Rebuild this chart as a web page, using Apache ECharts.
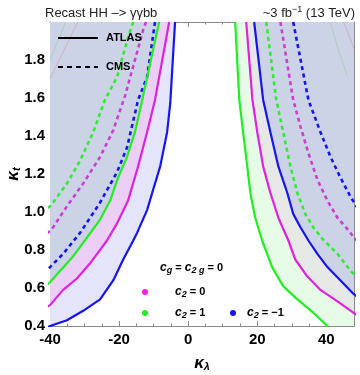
<!DOCTYPE html>
<html>
<head>
<meta charset="utf-8">
<script src="https://cdn.jsdelivr.net/npm/echarts@6/dist/echarts.min.js"></script>
<style>
  body { margin: 0; background: #fff; }
  #chart { width: 360px; height: 375px; }
</style>
</head>
<body>
<div id="chart"></div>
<script>
// ECharts 인스턴스
const chart = echarts.init(document.getElementById('chart'));

// 축 범위와 눈금
const xRange = [-40, 48];
const yRange = [0.4, 2.0];

// 곡선 데이터 [kappa_lambda, kappa_t] (ATLAS = 실선, CMS = 점선)
const atlasC2m1Left = [[-3.8, 2.0], [-5.2, 1.57], [-6.1, 1.42], [-8.1, 1.24], [-10.1, 1.12], [-11.9, 1.01], [-14.8, 0.89], [-15.9, 0.85], [-18.8, 0.75], [-21.7, 0.64], [-25.5, 0.54], [-30.4, 0.48], [-35.1, 0.43], [-40, 0.40], [-44, 0.37]];
const atlasC20Left = [[-5.5, 2.0], [-9.6, 1.59], [-11.9, 1.42], [-14.5, 1.24], [-17.4, 1.06], [-20.6, 0.94], [-23.5, 0.85], [-28.4, 0.73], [-32.2, 0.65], [-36.2, 0.59], [-40, 0.51], [-43, 0.48]];
const atlasC21Left = [[-8.4, 2.0], [-13.3, 1.59], [-15.4, 1.42], [-17.7, 1.29], [-20.3, 1.18], [-22.6, 1.06], [-25.5, 0.96], [-29.9, 0.85], [-33.6, 0.76], [-37.1, 0.69], [-40, 0.63], [-43, 0.59]];
const cmsC2m1Left = [[-9.6, 2.0], [-11.9, 1.71], [-14.5, 1.59], [-17.7, 1.34], [-20.6, 1.21], [-25.5, 1.05], [-31.3, 0.89], [-36.2, 0.78], [-40, 0.71], [-43, 0.66]];
const cmsC20Left = [[-12.2, 2.0], [-13.0, 1.96], [-18.3, 1.61], [-21.7, 1.43], [-25.5, 1.29], [-30.4, 1.15], [-35.1, 1.03], [-39.1, 0.92], [-40, 0.90], [-43, 0.86]];
const cmsC21Left = [[-15.9, 2.0], [-17.4, 1.92], [-20.6, 1.71], [-24.1, 1.59], [-27.5, 1.42], [-31.3, 1.27], [-35.1, 1.15], [-39.1, 1.05], [-40, 1.03], [-43, 0.99]];

const atlasC21Right = [[13.6, 2.0], [14.8, 1.59], [15.9, 1.42], [17.1, 1.24], [18.0, 1.10], [19.4, 0.97], [21.4, 0.85], [24.3, 0.71], [27.5, 0.61], [31.6, 0.54], [36.2, 0.47], [40.3, 0.40], [41.5, 0.37]];
const atlasC20Right = [[16.8, 2.0], [18.6, 1.59], [20.0, 1.42], [21.7, 1.24], [23.8, 1.10], [26.1, 0.97], [29.0, 0.85], [31.0, 0.75], [34.5, 0.66], [38.3, 0.59], [43.2, 0.53], [47.8, 0.47], [51.3, 0.43]];
const atlasC2m1Right = [[19.1, 2.0], [21.7, 1.59], [23.8, 1.42], [26.1, 1.24], [28.7, 1.10], [30.4, 0.99], [32.5, 0.92], [34.8, 0.85], [37.4, 0.78], [40.3, 0.71], [44.1, 0.64], [47.8, 0.57], [51.3, 0.52]];
const cmsC21Right = [[22.6, 2.0], [25.5, 1.59], [27.5, 1.42], [29.6, 1.24], [31.6, 1.10], [33.9, 0.99], [36.2, 0.92], [38.8, 0.86], [43.2, 0.78], [47.0, 0.69], [50.4, 0.63]];
const cmsC20Right = [[26.7, 2.0], [30.4, 1.59], [32.5, 1.45], [34.8, 1.31], [37.4, 1.17], [40.3, 1.06], [43.2, 0.97], [46.1, 0.91], [47.8, 0.87], [51.3, 0.80]];
const cmsC2m1Right = [[30.4, 2.0], [34.8, 1.59], [38.3, 1.42], [41.2, 1.29], [44.1, 1.18], [47.0, 1.08], [50.4, 0.98]];

// 모서리의 희미한 곡선
const faintGreenLeft = [[-40, 1.80], [-35.5, 2.0]];
const faintRedLeft = [[-40, 1.70], [-32, 2.0]];
const faintGreenRight = [[41.2, 2.0], [43.5, 1.85], [46, 1.72]];
const faintRedRight = [[45.0, 2.0], [48.5, 1.84]];

// 색상
const BLUE = '#1515F0', MAGENTA = '#DE22DE', GREEN = '#22EE22';
const MAGENTA_D = '#C83FD2', GREEN_D = '#30EC30';
const FONT = 'Liberation Sans';

// 곡선 바깥쪽 영역을 다각형으로 칠함
function region(curve, side, color) {
    return {
        type: 'custom',
        clip: true,
        silent: true,
        z: 1,
        data: [[0, 1]],
        renderItem: function (params, api) {
            const edge = side === 'left' ? -80 : 90;
            const first = curve[0];
            const last = curve[curve.length - 1];
            const pts = curve.concat([[edge, last[1]], [edge, 2.5], [first[0], 2.5]]);
            return {
                type: 'polygon',
                shape: { points: pts.map(p => api.coord(p)) },
                style: { fill: color }
            };
        }
    };
}

function curve(data, color, dashed, width, opacity) {
    return {
        type: 'line',
        data: data,
        showSymbol: false,
        clip: true,
        silent: true,
        z: 3,
        lineStyle: {
            color: color,
            width: width || (dashed ? 2.6 : 2.2),
            type: dashed ? [4, 3.5] : 'solid',
            opacity: opacity == null ? 1 : opacity
        }
    };
}

// 네 변 모두 안쪽 눈금이 있는 프레임
const frameAxis = {
    axisLine: { show: true, onZero: false, lineStyle: { color: '#8a8a8a', width: 1 } },
    axisTick: { show: true, inside: true, length: 5, lineStyle: { color: '#8a8a8a' } },
    minorTick: { show: true, splitNumber: 4, length: 2.5, lineStyle: { color: '#8a8a8a' } },
    splitLine: { show: false }
};

// 아래첨자용 rich 스타일
const legendRich = {
    i: { fontSize: 12, fontStyle: 'italic', fontWeight: 'bold', fontFamily: FONT, lineHeight: 15 },
    s: { fontSize: 9, fontStyle: 'italic', fontWeight: 'bold', fontFamily: FONT, lineHeight: 15, verticalAlign: 'bottom' },
    n: { fontSize: 11, fontWeight: 'bold', fontFamily: FONT, lineHeight: 15 }
};
const axisNameRich = {
    k: { fontSize: 17, fontStyle: 'italic', fontWeight: 'bold', fontFamily: FONT, lineHeight: 19 },
    s: { fontSize: 11, fontStyle: 'italic', fontWeight: 'bold', fontFamily: FONT, lineHeight: 19, verticalAlign: 'bottom' }
};

const option = {
    animation: false,
    backgroundColor: '#fff',
    grid: { left: 50, right: 6, top: 22, bottom: 49 },
    xAxis: [
        Object.assign({
            type: 'value', min: xRange[0], max: xRange[1], interval: 20, position: 'bottom',
            axisLabel: { color: '#000', fontSize: 15, fontWeight: 'bold', fontFamily: FONT, margin: 6, showMaxLabel: false }
        }, frameAxis),
        Object.assign({
            type: 'value', min: xRange[0], max: xRange[1], interval: 20, position: 'top',
            axisLabel: { show: false }
        }, frameAxis)
    ],
    yAxis: [
        Object.assign({
            type: 'value', min: yRange[0], max: yRange[1], interval: 0.2, position: 'left',
            axisLabel: {
                color: '#000', fontSize: 15, fontWeight: 'bold', fontFamily: FONT, margin: 5,
                formatter: v => (v > 1.95 ? '' : v.toFixed(1))
            }
        }, frameAxis),
        Object.assign({
            type: 'value', min: yRange[0], max: yRange[1], interval: 0.2, position: 'right',
            axisLabel: { show: false }
        }, frameAxis)
    ],
    graphic: [
        // 제목
        { type: 'text', x: 45, y: 13, style: { text: 'Recast HH –> γγbb', fontSize: 13, fontFamily: FONT, fill: '#222', align: 'left', verticalAlign: 'middle' } },
        {
            type: 'text', x: 355, y: 13,
            style: {
                text: '{n|~3 fb}{sup|−1}{n| (13 TeV)}', fill: '#222', align: 'right', verticalAlign: 'middle',
                rich: {
                    n: { fontSize: 13, fontFamily: FONT, lineHeight: 16 },
                    sup: { fontSize: 9, fontFamily: FONT, lineHeight: 16, verticalAlign: 'top' }
                }
            }
        },
        // 축 이름
        { type: 'text', x: 202, y: 363, style: { text: '{k|κ}{s|λ}', align: 'center', verticalAlign: 'middle', fill: '#000', rich: axisNameRich } },
        { type: 'text', x: 13, y: 174, rotation: Math.PI / 2, style: { text: '{k|κ}{s|t}', align: 'center', verticalAlign: 'middle', fill: '#000', rich: axisNameRich } },
        // ATLAS / CMS 범례
        { type: 'line', z: 10, shape: { x1: 58, y1: 38, x2: 98, y2: 38 }, style: { stroke: '#000', lineWidth: 2 } },
        { type: 'text', z: 10, x: 106, y: 38, style: { text: 'ATLAS', fontSize: 11, fontWeight: 'bold', fontFamily: FONT, fill: '#000', verticalAlign: 'middle' } },
        { type: 'line', z: 10, shape: { x1: 58, y1: 67, x2: 98, y2: 67 }, style: { stroke: '#000', lineWidth: 2, lineDash: [5, 4] } },
        { type: 'text', z: 10, x: 106, y: 67, style: { text: 'CMS', fontSize: 11, fontWeight: 'bold', fontFamily: FONT, fill: '#000', verticalAlign: 'middle' } },
        // c2 범례
        { type: 'text', z: 10, x: 160, y: 268, style: { text: '{i|c}{s|g}{n| = }{i|c}{s|2 g}{n| = 0}', rich: legendRich, fill: '#000', verticalAlign: 'middle' } },
        { type: 'circle', z: 10, shape: { cx: 145, cy: 292, r: 3 }, style: { fill: '#F020F0' } },
        { type: 'text', z: 10, x: 175, y: 292, style: { text: '{i|c}{s|2}{n| = 0}', rich: legendRich, fill: '#000', verticalAlign: 'middle' } },
        { type: 'circle', z: 10, shape: { cx: 145, cy: 313, r: 3 }, style: { fill: '#22F022' } },
        { type: 'text', z: 10, x: 175, y: 313, style: { text: '{i|c}{s|2}{n| = 1}', rich: legendRich, fill: '#000', verticalAlign: 'middle' } },
        { type: 'circle', z: 10, shape: { cx: 233, cy: 313, r: 3 }, style: { fill: '#1515F0' } },
        { type: 'text', z: 10, x: 247, y: 313, style: { text: '{i|c}{s|2}{n| = −1}', rich: legendRich, fill: '#000', verticalAlign: 'middle' } }
    ],
    series: [
        // 왼쪽 영역
        region(atlasC2m1Left, 'left', '#E4E4FA'),
        region(atlasC20Left, 'left', '#ECCFF6'),
        region(atlasC21Left, 'left', '#CDD3E6'),
        // 오른쪽 영역
        region(atlasC21Right, 'right', '#E7FCE7'),
        region(atlasC20Right, 'right', '#E6E8E6'),
        region(atlasC2m1Right, 'right', '#CDD3E6'),
        // 희미한 곡선
        curve(faintGreenLeft, '#6c6', false, 1, 0.35),
        curve(faintRedLeft, '#c66', false, 1, 0.3),
        curve(faintGreenRight, '#6c6', false, 1, 0.35),
        curve(faintRedRight, '#c66', false, 1, 0.3),
        // CMS 점선
        curve(cmsC21Left, GREEN_D, true),
        curve(cmsC20Left, MAGENTA_D, true),
        curve(cmsC2m1Left, BLUE, true),
        curve(cmsC21Right, GREEN_D, true),
        curve(cmsC20Right, MAGENTA_D, true),
        curve(cmsC2m1Right, BLUE, true),
        // ATLAS 실선
        curve(atlasC21Left, GREEN, false),
        curve(atlasC20Left, MAGENTA, false),
        curve(atlasC2m1Left, BLUE, false),
        curve(atlasC21Right, GREEN, false),
        curve(atlasC20Right, MAGENTA, false),
        curve(atlasC2m1Right, BLUE, false)
    ]
};

chart.setOption(option);
</script>
</body>
</html>
